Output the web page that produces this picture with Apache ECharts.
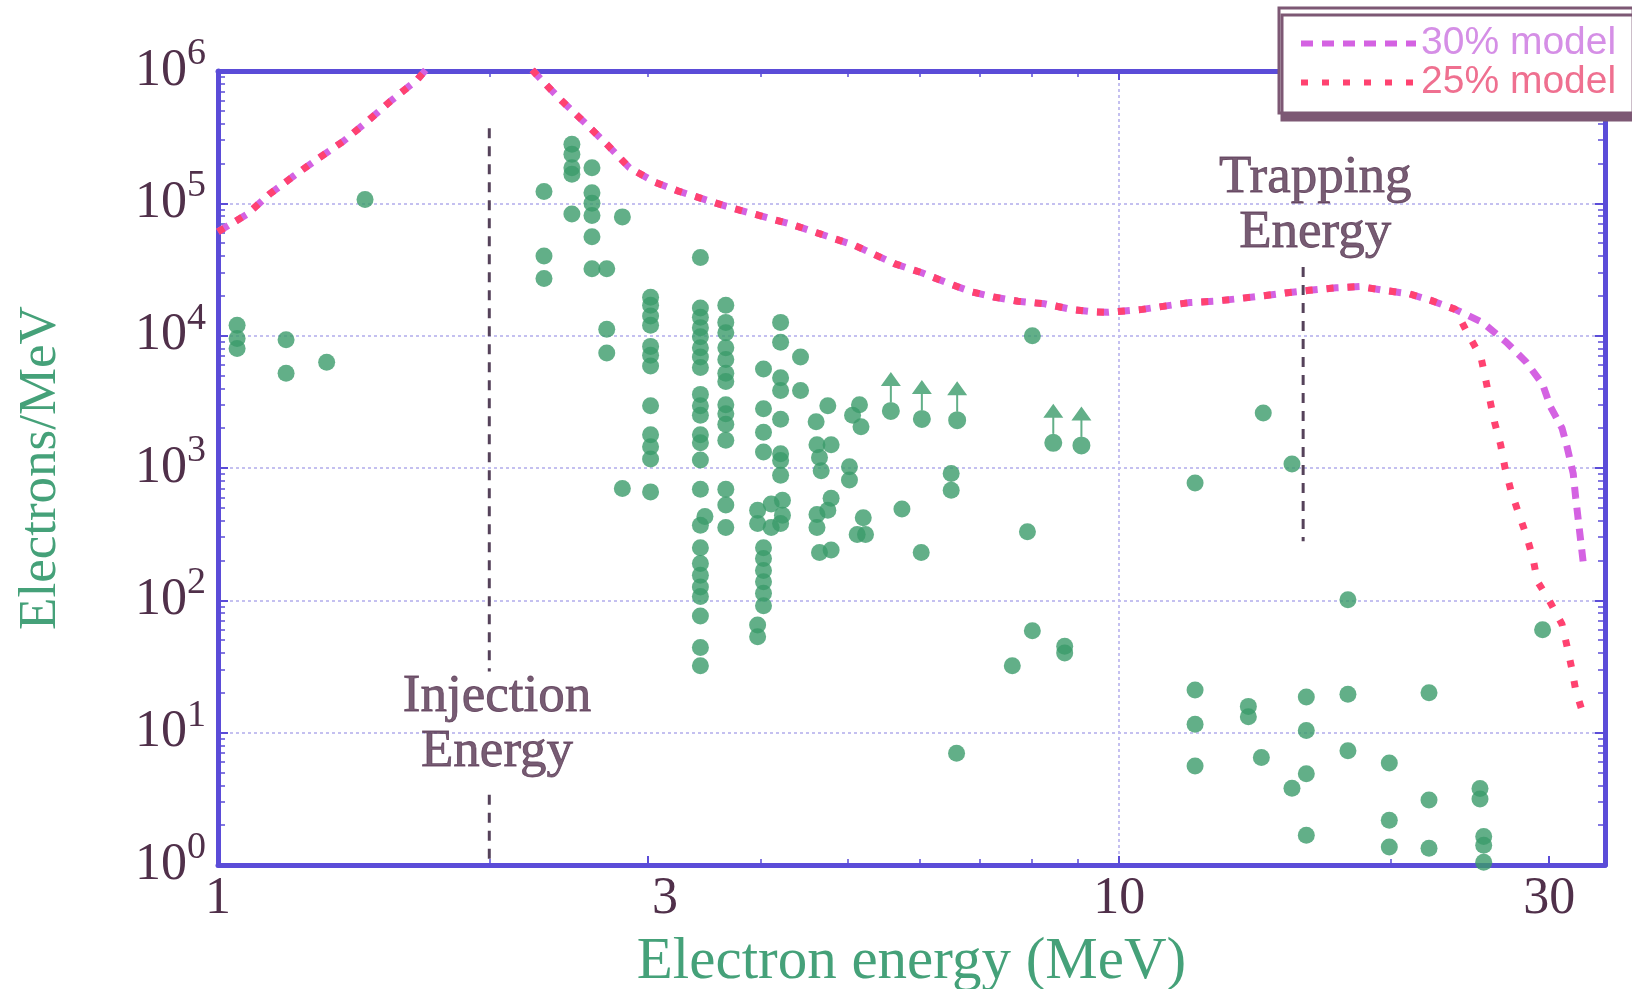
<!DOCTYPE html>
<html>
<head>
<meta charset="utf-8">
<script src="https://cdn.jsdelivr.net/npm/echarts@6/dist/echarts.min.js"></script>
<style>
html,body{margin:0;padding:0;background:#ffffff;}
#chart{width:1632px;height:989px;}
</style>
</head>
<body>
<div id="chart"></div>
<script>
// ---------- DATA ----------
const xTickLabels = [1, 3, 10, 30];
const xMajorTicks = [3, 10, 30];
const xMinorTicks = [2, 4, 5, 6, 7, 8, 9, 20];
const xTopTicks = [2, 3, 4, 5, 6, 7, 8, 9, 20, 30];

// measured electron spectrum points (energy in MeV, electrons/MeV)
const measuredEnergy = [
  1.05, 1.05, 1.05,
  1.19, 1.19,
  1.32,
  1.456,
  2.30, 2.30, 2.30,
  2.47, 2.47, 2.47, 2.47, 2.47,
  2.60, 2.60, 2.60, 2.60, 2.60, 2.60,
  2.70, 2.70, 2.70,
  2.81, 2.81,
  3.02, 3.02, 3.02, 3.02, 3.02, 3.02, 3.02, 3.02, 3.02, 3.02, 3.02, 3.02,
  3.43, 3.43, 3.43, 3.43, 3.43, 3.43, 3.43, 3.43, 3.43, 3.43, 3.43, 3.43,
  3.43, 3.43, 3.43, 3.43, 3.43, 3.43, 3.43, 3.43, 3.43, 3.43, 3.43, 3.43,
  3.47,
  3.66, 3.66, 3.66, 3.66, 3.66, 3.66, 3.66, 3.66, 3.66, 3.66, 3.66, 3.66, 3.66, 3.66,
  3.97, 3.97, 3.97, 3.97,
  4.03, 4.03, 4.03, 4.03, 4.03, 4.03, 4.03, 4.03, 4.03, 4.03,
  4.11, 4.11,
  4.21, 4.21, 4.21, 4.21, 4.21, 4.21, 4.21, 4.21, 4.21,
  4.23, 4.23,
  4.43, 4.43,
  4.61,
  4.62, 4.62, 4.62,
  4.65, 4.65,
  4.67,
  4.75, 4.75,
  4.79, 4.79, 4.79,
  5.02, 5.02,
  5.06, 5.15, 5.17, 5.20, 5.12, 5.23,
  5.74, 6.03,
  6.51, 6.51,
  6.60, 7.61, 7.91,
  8.01, 8.01,
  8.70, 8.70,
  12.14, 12.14, 12.14, 12.14,
  13.91, 13.91,
  14.38, 14.45,
  15.55, 15.55,
  16.13, 16.13, 16.13, 16.13,
  17.94, 17.94, 17.94,
  19.94, 19.94, 19.94,
  22.07, 22.07, 22.07,
  25.14, 25.14,
  25.38, 25.38, 25.38,
  29.5
];
const measuredDensity = [
  1.2e4, 9.5e3, 8.0e3,
  9.3e3, 5.2e3,
  6.3e3,
  1.07e5,
  1.23e5, 4.0e4, 2.7e4,
  2.8e5, 2.35e5, 1.86e5, 1.66e5, 8.3e4,
  1.86e5, 1.2e5, 1.0e5, 8.1e4, 5.6e4, 3.2e4,
  3.2e4, 1.12e4, 7.4e3,
  7.9e4, 700,
  1.95e4, 1.7e4, 1.41e4, 1.2e4, 8.3e3, 7.1e3, 5.9e3, 2.95e3, 1.78e3, 1.45e3, 1.17e3, 660,
  3.9e4, 1.62e4, 1.38e4, 1.15e4, 9.8e3, 8.1e3, 6.9e3, 5.75e3, 3.6e3, 2.95e3, 2.5e3, 1.78e3,
  1.55e3, 1.15e3, 690, 370, 250, 190, 155, 126, 107, 76, 44, 32,
  430,
  1.7e4, 1.26e4, 1.05e4, 8.1e3, 6.6e3, 5.2e3, 4.5e3, 3.0e3, 2.57e3, 2.14e3, 1.62e3, 690, 525, 355,
  480, 380, 65, 53,
  5.6e3, 2.8e3, 1.86e3, 1.32e3, 250, 207, 168, 138, 113, 91,
  535, 355,
  1.26e4, 8.9e3, 4.8e3, 3.85e3, 2.34e3, 1.28e3, 1.14e3, 880, 380,
  570, 440,
  6.9e3, 3.85e3,
  2.24e3,
  1.5e3, 445, 355,
  1.2e3, 230,
  955,
  2.95e3, 480,
  1.5e3, 590, 240,
  1.02e3, 810,
  2.5e3, 3.0e3, 2.05e3, 420, 315, 315,
  490, 230,
  910, 680,
  7.0, 32, 330,
  1.0e4, 59,
  45, 40,
  770, 21, 11.6, 5.6,
  15.8, 13.2,
  6.5, 2.6e3,
  1.07e3, 3.8,
  18.6, 10.4, 4.9, 1.68,
  101, 19.5, 7.3,
  5.9, 2.18, 1.37,
  20, 3.1, 1.34,
  3.78, 3.15,
  1.64, 1.41, 1.05,
  60
];

// lower limits (points with upward arrows)
const limitEnergy = [5.58, 6.04, 6.61, 8.45, 9.08];
const limitDensity = [2.7e3, 2.35e3, 2.3e3, 1.55e3, 1.48e3];

// model curves: shared part, then the two tails
const modelSharedEnergy = [1.0, 1.078, 1.14, 1.215, 1.294, 1.378, 1.467, 1.553, 1.664, 1.8, 1.95, 2.1,
  2.28, 2.41, 2.54, 2.70, 2.86, 3.05, 3.25, 3.7, 4.34, 5.09, 5.63, 6.03, 6.45, 6.85, 7.28, 7.72,
  8.27, 8.85, 9.36, 9.73, 10.61, 11.28, 11.98, 12.74, 13.53, 14.44, 15.28, 16.25, 17.41, 18.51,
  19.67, 20.99, 22.21, 23.6];
const modelSharedDensity = [6.1e4, 8.3e4, 1.17e5, 1.62e5, 2.2e5, 2.95e5, 4.2e5, 5.9e5, 8.6e5, 1.6e6, 2.0e6, 1.6e6,
  8.7e5, 5.9e5, 4.2e5, 2.8e5, 1.86e5, 1.45e5, 1.23e5, 9.3e4, 6.9e4, 4.8e4, 3.5e4, 3.0e4, 2.5e4, 2.15e4, 1.95e4, 1.82e4,
  1.74e4, 1.58e4, 1.51e4, 1.5e4, 1.58e4, 1.68e4, 1.78e4, 1.82e4, 1.9e4, 2.0e4, 2.1e4, 2.2e4, 2.3e4, 2.35e4,
  2.2e4, 2.07e4, 1.84e4, 1.58e4];
const tail30Energy = [25.3, 26.9, 28.3, 29.5, 30.1, 31.0, 31.4, 31.9, 32.1, 32.8];
const tail30Density = [1.26e4, 8.9e3, 6.3e3, 4.3e3, 2.9e3, 2.0e3, 1.45e3, 910, 600, 170];
const tail25Energy = [24.4, 25.2, 25.5, 25.8, 26.1, 26.5, 26.8, 27.2, 27.7, 28.3, 28.8, 29.1, 30.0, 31.0, 31.4, 31.8, 32.1, 32.7];
const tail25Density = [1.02e4, 6.9e3, 4.7e3, 3.2e3, 2.2e3, 1.5e3, 1.0e3, 680, 470, 310, 205, 140, 100, 66, 45, 30, 21, 14];

// reference energies (vertical dashed markers)
const injectionEnergy = 2.0;
const injectionUpperSpan = [3.7e5, 29];
const injectionLowerSpan = [3.4, 1];
const trappingEnergy = 16.0;
const trappingSpan = [3.3e4, 280];

// annotation anchors (data coordinates)
const annotationText = ['Injection\nEnergy', 'Trapping\nEnergy'];
const annotationEnergy = [2.04, 16.5];
const annotationDensity = [11.6, 9.7e4];

// ---------- STYLE ----------
const SERIF = 'Liberation Serif';
const SANS = 'Liberation Sans';
const FRAME = '#5b4cd8';
const GRID = '#c4c0f0';
const LABEL = '#50304a';
const GREEN_TEXT = '#45a179';
const DOT = '#3b9b6a';
const C30 = '#d462e2';
const C25 = '#ff4270';
const MARK = '#55425a';
const X_MIN = 1, X_MAX = 34.6, Y_MIN = 1, Y_MAX = 1e6;

const zip = (a, b) => a.map((v, i) => [v, b[i]]);

const arrowPath = 'path://M10 0 L20 14 L0 14 Z M9 14 L11 14 L11 30 L9 30 Z M10 30 A9 9 0 0 1 10 48 A9 9 0 0 1 10 30 Z';

const baseLog = { type: 'log', logBase: 10, gridIndex: 0 };

const chart = echarts.init(document.getElementById('chart'), null, { renderer: 'canvas' });

const option = {
  backgroundColor: '#ffffff',
  animation: false,
  grid: { left: 218, right: 27, top: 71, bottom: 124, containLabel: false, outerBoundsMode: 'none' },
  legend: {
    data: [
      { name: '30% model', textStyle: { color: '#d58fe6' } },
      { name: '25% model', textStyle: { color: '#ef7090' } }
    ],
    orient: 'vertical',
    left: 1279, top: 8,
    padding: [16, 17, 11, 19],
    itemWidth: 115, itemHeight: 20, itemGap: 0,
    textStyle: { fontFamily: SANS, fontSize: 39, lineHeight: 38 },
    itemStyle: { opacity: 0, borderWidth: 0 },
    lineStyle: { width: 6 },
    backgroundColor: '#ffffff',
    borderColor: '#7d5874', borderWidth: 3, borderRadius: 0,
    shadowColor: '#7d5874', shadowOffsetX: 3, shadowOffsetY: 7, shadowBlur: 0,
    selectedMode: false
  },
  xAxis: [
    Object.assign({}, baseLog, {
      min: X_MIN, max: X_MAX, position: 'bottom',
      name: 'Electron energy (MeV)', nameLocation: 'middle', nameGap: 68, nameMoveOverlap: false,
      nameTextStyle: { fontFamily: SERIF, fontSize: 59, color: GREEN_TEXT },
      axisLine: { show: true, lineStyle: { color: FRAME, width: 5 } },
      axisTick: { show: true, inside: true, length: 9, customValues: xMajorTicks, lineStyle: { color: FRAME, width: 2 } },
      axisLabel: {
        show: true, customValues: xTickLabels, margin: 8, fontFamily: SERIF, fontSize: 52, color: LABEL,
        formatter: v => (Math.round(v) === 3 ? '{r|3}' : String(Math.round(v))),
        rich: { r: { fontFamily: SERIF, fontSize: 52, color: LABEL, padding: [0, 0, 0, 34] } }
      },
      splitLine: { show: false }, minorTick: { show: false }
    }),
    Object.assign({}, baseLog, {
      min: X_MIN, max: X_MAX, position: 'bottom',
      axisLine: { show: false },
      axisTick: { show: true, inside: true, length: 6, customValues: xMinorTicks, lineStyle: { color: FRAME, width: 1.5 } },
      axisLabel: { show: false }, splitLine: { show: false }
    }),
    Object.assign({}, baseLog, {
      min: X_MIN, max: X_MAX, position: 'top',
      axisLine: { show: true, lineStyle: { color: FRAME, width: 5 } },
      axisTick: { show: true, inside: true, length: 9, customValues: [10], lineStyle: { color: FRAME, width: 2 } },
      axisLabel: { show: false },
      splitLine: { show: true, lineStyle: { color: GRID, width: 2, type: [3, 3] } }
    }),
    Object.assign({}, baseLog, {
      min: X_MIN, max: X_MAX, position: 'top',
      axisLine: { show: false },
      axisTick: { show: true, inside: true, length: 6, customValues: xTopTicks, lineStyle: { color: FRAME, width: 1.5 } },
      axisLabel: { show: false }, splitLine: { show: false }
    })
  ],
  yAxis: [
    Object.assign({}, baseLog, {
      min: Y_MIN, max: Y_MAX, position: 'left',
      name: 'Electrons/MeV', nameLocation: 'middle', nameGap: 150, nameRotate: 90, nameMoveOverlap: false,
      nameTextStyle: { fontFamily: SERIF, fontSize: 53, color: GREEN_TEXT },
      axisLine: { show: true, lineStyle: { color: FRAME, width: 5 } },
      axisTick: { show: true, inside: true, length: 10, lineStyle: { color: FRAME, width: 2 } },
      minorTick: { show: true, splitNumber: 9, length: 7, lineStyle: { color: FRAME, width: 1.5 } },
      axisLabel: {
        show: true, margin: 12,
        formatter: v => '{b|10}{s|' + Math.round(Math.log10(v)) + '}',
        rich: {
          b: { fontFamily: SERIF, fontSize: 52, color: LABEL, lineHeight: 72 },
          s: { fontFamily: SERIF, fontSize: 38, color: LABEL, lineHeight: 38, verticalAlign: 'top' }
        }
      },
      splitLine: { show: true, lineStyle: { color: GRID, width: 2, type: [3, 3] } },
      minorSplitLine: { show: false }
    }),
    Object.assign({}, baseLog, {
      min: Y_MIN, max: Y_MAX, position: 'right',
      axisLine: { show: true, lineStyle: { color: FRAME, width: 5 } },
      axisTick: { show: true, inside: true, length: 10, lineStyle: { color: FRAME, width: 2 } },
      minorTick: { show: true, splitNumber: 9, length: 7, lineStyle: { color: FRAME, width: 1.5 } },
      axisLabel: { show: false },
      splitLine: { show: false }
    })
  ],
  series: [
    {
      name: 'Injection marker', type: 'line', xAxisIndex: 0, yAxisIndex: 0, silent: true,
      symbol: 'none', data: injectionUpperSpan.map(v => [injectionEnergy, v]),
      lineStyle: { color: MARK, width: 3, type: [10, 8] }
    },
    {
      name: 'Injection marker low', type: 'line', xAxisIndex: 0, yAxisIndex: 0, silent: true,
      symbol: 'none', data: injectionLowerSpan.map(v => [injectionEnergy, v]),
      lineStyle: { color: MARK, width: 3, type: [10, 8] }
    },
    {
      name: 'Trapping marker', type: 'line', xAxisIndex: 0, yAxisIndex: 0, silent: true,
      symbol: 'none', data: trappingSpan.map(v => [trappingEnergy, v]),
      lineStyle: { color: MARK, width: 3, type: [10, 8] }
    },
    {
      name: '30% model', type: 'line', xAxisIndex: 0, yAxisIndex: 0, clip: true,
      symbol: 'none', smooth: false, color: C30,
      data: zip(modelSharedEnergy.concat(tail30Energy), modelSharedDensity.concat(tail30Density)),
      lineStyle: { color: C30, width: 7, type: [12, 9], cap: 'butt' }
    },
    {
      name: '25% model', type: 'line', xAxisIndex: 0, yAxisIndex: 0, clip: true,
      symbol: 'none', smooth: false, color: C25,
      data: zip(modelSharedEnergy.concat(tail25Energy), modelSharedDensity.concat(tail25Density)),
      lineStyle: { color: C25, width: 7, type: [7, 14], cap: 'butt' }
    },
    {
      name: 'Measured', type: 'scatter', xAxisIndex: 0, yAxisIndex: 0, silent: true,
      symbol: 'circle', symbolSize: 17,
      itemStyle: { color: DOT },
      data: zip(measuredEnergy, measuredDensity)
    },
    {
      name: 'Lower limits', type: 'scatter', xAxisIndex: 0, yAxisIndex: 0, silent: true,
      symbol: arrowPath, symbolSize: [20, 48], symbolOffset: [0, -15],
      itemStyle: { color: DOT },
      data: zip(limitEnergy, limitDensity)
    },
    {
      name: 'Annotations', type: 'scatter', xAxisIndex: 0, yAxisIndex: 0, silent: true,
      symbol: 'circle', symbolSize: 1,
      itemStyle: { color: 'rgba(0,0,0,0)' },
      label: {
        show: true, position: 'inside', formatter: p => p.name,
        fontFamily: SERIF, fontSize: 53, lineHeight: 55, color: '#553350',
        textBorderColor: '#553350', textBorderWidth: 0.8,
        align: 'center', verticalAlign: 'middle'
      },
      data: annotationText.map((t, i) => ({ name: t, value: [annotationEnergy[i], annotationDensity[i]] }))
    }
  ]
};

chart.setOption(option);
</script>
</body>
</html>
